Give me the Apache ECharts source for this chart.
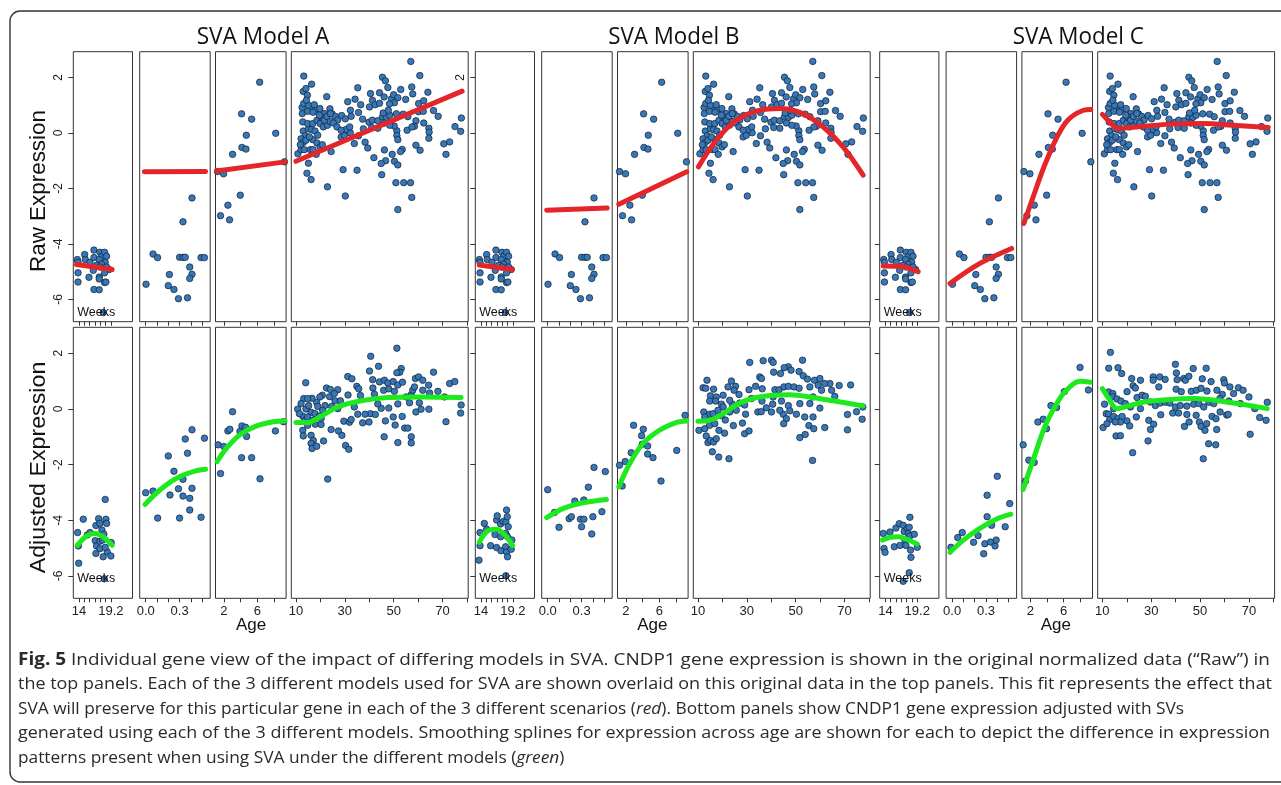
<!DOCTYPE html>
<html>
<head>
<meta charset="utf-8">
<script src="https://cdn.jsdelivr.net/npm/echarts@6/dist/echarts.min.js"></script>
<style>
html, body { margin: 0; padding: 0; background: #fff; }
#main { width: 1281px; height: 785px; }
</style>
</head>
<body>
<div id="main"></div>
<script>
// ---- data: raw expression (same in all three models) ----
var rawWeeks = [[13.73,-4.56],[13.84,-4.66],[14.92,-4.38],[15.03,-4.56],[16.44,-4.22],[16.44,-4.49],[15.79,-4.66],[17.41,-4.30],[17.74,-4.44],[18.17,-4.30],[18.50,-4.44],[17.30,-4.56],[18.28,-4.66],[17.68,-4.73],[16.87,-4.77],[16.33,-4.95],[17.41,-4.83],[18.28,-4.86],[18.93,-4.92],[13.84,-5.04],[13.84,-5.37],[15.63,-5.20],[17.30,-5.19],[17.30,-5.26],[18.17,-5.04],[18.17,-5.39],[18.39,-5.37],[16.44,-5.64],[17.30,-5.65],[17.95,-6.47],[18.50,-4.83]];
var rawInfant = [[0.003,-5.45],[0.065,-4.36],[0.105,-4.49],[0.21,-5.10],[0.20,-5.50],[0.25,-5.64],[0.29,-5.97],[0.33,-3.20],[0.30,-4.48],[0.33,-4.48],[0.35,-4.48],[0.41,-2.34],[0.39,-4.83],[0.41,-5.09],[0.39,-5.24],[0.37,-5.94],[0.49,-4.49],[0.52,-4.49]];
var rawChild = [[6.28,1.83],[4.12,0.69],[5.32,0.50],[4.68,-0.08],[4.16,-0.52],[4.64,-0.58],[3.04,-0.77],[8.2,-0.01],[9.24,-1.04],[1.24,-1.39],[1.96,-1.47],[3.96,-2.24],[2.48,-2.60],[1.6,-2.98],[2.68,-3.13]];
var rawAdult = [[57.0,2.58],[13.2,2.05],[60.7,2.07],[45.4,2.01],[46.6,1.88],[16.4,1.76],[13.0,1.50],[14.1,1.60],[14.7,1.36],[22.6,1.31],[35.3,1.63],[47.6,1.64],[52.9,1.57],[57.4,1.66],[57.8,1.41],[40.5,1.42],[44.2,1.45],[46.1,1.30],[49.1,1.23],[50.0,1.38],[51.7,1.27],[54.9,1.21],[64.0,1.47],[60.2,1.06],[62.3,1.16],[34.2,1.22],[31.2,1.13],[41.3,1.18],[36.5,1.02],[40.1,0.94],[42.4,1.02],[44.2,1.07],[50.3,1.09],[48.3,1.05],[12.5,0.92],[16.0,0.92],[18.2,0.86],[12.6,0.70],[14.8,0.78],[17.0,0.75],[19.8,0.88],[23.9,0.87],[24.8,0.69],[21.6,0.70],[26.1,0.60],[27.1,0.47],[32.3,0.82],[32.6,0.60],[28.7,0.63],[30.2,0.51],[35.6,0.74],[37.3,0.50],[39.9,0.39],[41.3,0.46],[43.5,0.44],[45.4,0.58],[47.0,0.56],[48.4,0.64],[45.7,0.72],[47.8,0.82],[51.1,0.69],[53.9,0.68],[55.8,0.59],[59.1,0.44],[60.2,0.77],[62.1,0.78],[66.3,0.81],[68.2,0.60],[62.3,0.36],[64.4,0.17],[64.5,0.03],[64.4,-0.19],[77.7,0.54],[77.4,0.06],[75.1,0.23],[72.9,-0.32],[70.5,-0.39],[71.4,-0.77],[58.5,0.24],[55.5,0.10],[57.5,0.22],[59.1,-0.44],[60.8,-0.62],[53.5,-0.59],[52.8,-0.67],[51.3,0.08],[51.3,-0.09],[51.7,-0.24],[50.2,0.25],[48.4,0.28],[46.2,-0.61],[46.7,-1.0],[44.9,-1.1],[41.9,-0.89],[49.4,-0.77],[50.3,-1.02],[51.7,-1.15],[45.1,-1.5],[50.9,-1.79],[54.1,-1.79],[56.9,-1.79],[57.4,-2.32],[51.7,-2.76],[29.3,-1.32],[35.0,-1.34],[22.9,-1.94],[30.2,-2.27],[16.2,-1.68],[14.5,-1.45],[15.1,-1.09],[10.8,-0.75],[12.1,-0.60],[13.4,-0.60],[15.9,-0.60],[17.0,-0.60],[18.3,-0.77],[24.4,-0.67],[33.9,-0.38],[38.3,-0.33],[39.4,-0.54],[28.5,-0.14],[29.8,-0.08],[32.2,0.01],[35.6,-0.10],[37.6,0.15],[41.0,0.20],[43.5,0.17],[46.2,0.36],[12.8,0.40],[13.0,0.07],[13.8,-0.10],[15.1,0.15],[16.4,0.12],[17.8,0.07],[18.9,-0.08],[14.8,0.34],[16.9,0.34],[18.6,0.46],[19.9,0.34],[21.2,0.22],[22.9,0.28],[23.9,0.42],[25.3,0.36],[26.8,0.22],[20.3,0.58],[21.6,0.46],[19.6,0.64],[22.7,0.60],[24.1,0.70],[12.1,-0.21],[13.0,-0.34],[11.8,-0.42],[14.1,-0.26],[16.9,-0.24],[18.6,-0.36],[19.9,-0.50],[20.8,-0.42],[15.5,-0.14],[30.5,0.13],[28.5,0.10],[32.0,0.22],[13.2,1.06],[15.1,1.00],[17.5,1.02],[14.3,1.18]];

// ---- data: adjusted expression, model A ----
var adjAWeeks = [[13.78,-4.44],[13.89,-4.92],[13.95,-5.54],[14.7,-3.96],[15.35,-4.53],[15.79,-4.44],[17.2,-3.94],[16.76,-4.19],[17.41,-4.11],[16.65,-4.73],[16.87,-4.92],[16.76,-5.19],[17.41,-4.75],[17.74,-4.35],[18.06,-4.50],[18.39,-3.96],[18.5,-4.11],[18.28,-3.25],[17.41,-5.02],[17.95,-5.31],[18.6,-5.13],[19.25,-4.80],[19.2,-5.28],[18.28,-4.97],[18.12,-6.10],[17.85,-4.71]];
var adjAInfant = [[0.0,-3.01],[0.065,-2.95],[0.106,-3.92],[0.20,-1.69],[0.215,-3.09],[0.25,-2.24],[0.29,-2.87],[0.30,-3.92],[0.33,-3.13],[0.33,-2.53],[0.35,-1.08],[0.37,-1.59],[0.39,-3.21],[0.39,-3.63],[0.41,-2.85],[0.41,-0.75],[0.49,-3.89],[0.52,-1.05]];
var adjAChild = [[1.32,-1.29],[2.0,-1.35],[1.6,-2.32],[2.48,-0.79],[2.72,-0.73],[3.04,-0.10],[3.92,-0.81],[4.16,-0.61],[4.6,-0.66],[4.72,-0.99],[4.12,-1.75],[5.32,-1.75],[6.32,-2.51],[8.16,-0.79],[9.12,-0.46]];
var adjAAdult = [[51.3,2.18],[40.6,1.89],[40.1,1.36],[43.8,1.53],[53.1,1.45],[52.5,1.32],[51.3,1.30],[66.3,1.32],[14.0,0.94],[31.2,1.16],[32.9,1.08],[41.4,1.05],[44.2,0.97],[46.2,1.03],[47.6,0.93],[49.8,0.98],[51.7,0.86],[53.6,0.96],[58.9,1.09],[60.2,1.15],[61.9,1.03],[64.3,0.85],[72.9,0.91],[75.0,0.98],[22.5,0.75],[24.1,0.70],[27.1,0.69],[20.8,0.49],[23.8,0.44],[13.2,0.37],[16.6,0.38],[18.5,0.23],[26.0,0.29],[28.2,0.29],[31.3,0.50],[34.9,0.81],[35.7,0.72],[36.4,0.48],[41.5,0.75],[42.1,0.53],[45.9,0.67],[48.0,0.72],[50.3,0.63],[57.2,0.51],[57.8,0.67],[61.9,0.67],[64.7,0.57],[68.1,0.63],[70.8,0.43],[12.1,0.19],[10.7,-0.01],[14.1,0.0],[15.2,0.12],[18.9,0.09],[21.9,0.12],[24.6,0.09],[16.2,-0.12],[17.8,-0.17],[19.7,-0.26],[12.8,-0.26],[13.7,-0.41],[14.8,-0.59],[12.8,-0.77],[13.0,-0.97],[16.2,-0.95],[17.1,-1.13],[16.2,-1.24],[16.6,-1.42],[18.5,-1.34],[21.3,-1.15],[17.9,-0.55],[20.3,-0.56],[24.4,-0.74],[27.4,-0.79],[28.8,-0.95],[30.3,-1.31],[31.6,-1.45],[29.6,-0.44],[31.9,-0.48],[32.6,-0.38],[37.3,-0.50],[39.9,-0.47],[40.5,-0.17],[38.3,-0.19],[42.5,-0.20],[46.1,-1.00],[44.9,0.02],[46.6,-0.43],[48.0,0.03],[49.8,-0.29],[50.6,-0.58],[51.7,-1.21],[53.5,-0.27],[54.5,-0.69],[55.8,-0.69],[57.2,-1.00],[57.2,-1.22],[56.5,0.22],[59.1,-0.11],[61.2,-0.01],[64.4,-0.01],[71.4,-0.46],[77.6,0.14],[77.4,-0.15],[23.0,-2.52],[33.9,0.07],[27.1,0.01],[20.9,-0.05],[11.4,-0.17],[14.8,-0.29],[16.9,-0.41],[20.3,-0.35],[35.3,-0.19],[43.5,0.18],[51.7,0.18],[55.1,0.43],[60.5,0.22],[58.5,0.79],[14.8,0.37],[19.8,0.43],[25.7,0.55]];

// ---- data: adjusted expression, model B ----
var adjBWeeks = [[13.84,-4.44],[13.84,-4.91],[13.67,-5.43],[14.54,-4.11],[14.92,-4.32],[15.57,-4.91],[16.28,-4.51],[16.55,-3.99],[16.65,-3.84],[16.55,-4.98],[17.2,-4.13],[17.2,-4.59],[17.25,-5.09],[17.63,-4.04],[18.06,-4.06],[18.17,-3.63],[18.28,-3.87],[18.44,-4.23],[18.06,-4.47],[18.33,-4.59],[18.01,-4.95],[18.17,-5.14],[18.33,-5.31],[18.93,-5.04],[19.04,-4.71],[18.06,-5.99]];
var adjBInfant = [[0.0,-2.90],[0.06,-3.72],[0.10,-4.25],[0.19,-3.94],[0.21,-3.87],[0.24,-3.31],[0.29,-3.96],[0.30,-4.23],[0.32,-3.27],[0.32,-3.96],[0.36,-2.81],[0.39,-4.49],[0.40,-3.87],[0.41,-2.10],[0.48,-3.69],[0.51,-2.25]];
var adjBChild = [[1.24,-2.02],[1.92,-1.89],[1.56,-2.77],[2.64,-1.57],[2.92,-0.59],[3.88,-0.96],[4.08,-0.73],[3.96,-1.27],[4.6,-1.33],[4.6,-1.62],[5.24,-1.75],[6.2,-2.59],[8.08,-1.49],[9.08,-0.23]];
var adjBAdult = [[31.2,1.67],[36.7,1.73],[40.1,1.75],[40.8,1.67],[52.8,1.75],[47.0,1.51],[45.3,1.48],[48.1,1.39],[51.4,1.34],[41.0,1.32],[43.8,1.27],[35.3,1.15],[36.0,1.09],[53.1,1.19],[54.8,1.07],[57.7,1.03],[59.9,1.09],[64.0,0.91],[67.8,0.84],[72.5,0.86],[13.7,1.03],[12.1,0.76],[13.2,0.74],[16.4,0.71],[22.3,0.79],[23.7,1.00],[25.4,0.81],[24.8,0.67],[30.9,0.69],[33.6,0.81],[36.3,0.72],[41.5,0.69],[43.2,0.69],[45.2,0.79],[47.0,0.81],[49.3,0.79],[51.4,0.74],[55.8,0.79],[59.2,0.85],[61.9,0.91],[60.6,0.67],[64.7,0.67],[66.0,0.45],[15.1,0.47],[17.5,0.43],[20.3,0.49],[26.8,0.52],[31.9,0.37],[40.8,0.43],[57.1,0.43],[14.8,0.28],[17.2,0.28],[19.6,0.17],[24.1,0.17],[27.1,0.21],[29.1,0.14],[36.2,0.28],[40.6,0.17],[44.2,0.28],[47.0,0.12],[51.7,0.19],[55.8,0.19],[59.9,0.03],[74.9,-0.10],[77.5,0.07],[12.4,-0.11],[14.8,-0.19],[12.8,-0.29],[16.2,-0.17],[19.6,-0.24],[21.2,-0.40],[23.0,-0.11],[25.7,-0.05],[29.5,-0.19],[34.5,-0.11],[35.9,-0.10],[40.1,-0.11],[44.9,-0.19],[46.2,-0.35],[50.3,-0.19],[53.7,-0.29],[57.1,-0.29],[71.2,-0.20],[77.2,-0.37],[10.4,-0.77],[12.8,-0.71],[13.4,-0.97],[14.1,-1.21],[15.1,-1.13],[16.4,-1.19],[17.5,-1.07],[14.8,-0.59],[16.9,-0.53],[18.6,-0.77],[20.9,-0.87],[24.5,-0.60],[28.2,-0.51],[29.1,-0.89],[30.9,-0.79],[45.1,-0.53],[51.7,-1.03],[53.9,-0.92],[55.4,-0.60],[57.4,-0.71],[61.9,-0.67],[71.2,-0.75],[15.9,-1.54],[18.5,-1.73],[22.7,-1.79],[56.9,-1.85],[43.5,-0.05],[47.6,-0.07],[38.0,0.04],[23.0,0.31],[20.3,0.07],[18.2,-0.05]];

// ---- data: adjusted expression, model C ----
var adjCWeeks = [[13.66,-4.47],[13.77,-5.01],[13.94,-5.15],[14.75,-4.42],[15.45,-4.95],[15.72,-4.28],[16.26,-4.12],[16.37,-4.90],[16.91,-4.18],[17.08,-4.40],[17.19,-4.71],[17.35,-4.90],[17.56,-4.29],[17.73,-4.47],[17.89,-4.25],[18.0,-3.89],[18.0,-4.56],[18.1,-5.07],[18.17,-5.33],[17.89,-5.88],[18.71,-4.50],[19.2,-4.97],[16.91,-6.19]];
var adjCInfant = [[-0.01,-4.97],[0.05,-4.62],[0.09,-4.44],[0.19,-4.79],[0.23,-4.55],[0.28,-5.20],[0.29,-4.84],[0.31,-3.10],[0.31,-3.87],[0.34,-4.78],[0.35,-4.18],[0.38,-4.92],[0.39,-4.71],[0.40,-2.42],[0.47,-4.23],[0.51,-3.40]];
var adjCChild = [[1.15,-1.29],[1.43,-2.59],[1.83,-1.84],[2.47,-1.92],[2.91,-0.47],[3.55,-0.37],[3.95,-0.71],[4.47,0.12],[5.15,0.05],[6.07,0.62],[7.95,1.49],[8.95,0.68]];
var adjCAdult = [[13.3,2.03],[12.6,1.46],[16.4,1.48],[17.9,1.27],[39.9,1.60],[40.3,1.29],[47.2,1.45],[52.5,1.46],[22.0,1.09],[25.6,1.03],[30.8,1.15],[30.8,1.03],[33.5,1.15],[35.7,1.06],[40.6,1.05],[43.3,1.09],[44.0,1.03],[45.4,1.17],[50.9,1.08],[54.5,0.98],[59.7,1.05],[60.0,0.93],[62.2,0.79],[65.7,0.76],[67.6,0.67],[22.6,0.83],[23.5,0.75],[20.1,0.62],[12.6,0.61],[14.3,0.55],[33.1,0.79],[40.2,0.71],[42.3,0.62],[46.4,0.63],[48.5,0.67],[50.4,0.74],[52.8,0.64],[56.9,0.67],[59.1,0.52],[63.7,0.55],[70.0,0.43],[77.5,0.24],[10.9,0.17],[11.6,-0.17],[14.0,0.43],[16.0,0.36],[17.6,0.28],[19.4,0.19],[24.2,0.41],[26.3,0.49],[27.6,0.45],[29.6,0.25],[31.7,0.12],[33.7,0.21],[35.8,0.24],[37.6,0.21],[39.9,0.07],[41.9,0.12],[44.6,0.10],[47.4,0.17],[49.5,0.19],[51.5,0.07],[53.6,0.24],[55.6,0.19],[58.1,0.37],[61.8,0.28],[66.5,0.19],[72.4,0.01],[12.6,-0.19],[13.0,-0.38],[14.6,-0.27],[16.3,-0.35],[18.1,-0.27],[20.1,-0.43],[21.2,-0.61],[17.4,-0.47],[15.3,-0.47],[10.3,-0.67],[11.9,-0.53],[15.6,-0.97],[17.4,-0.96],[23.9,-0.29],[29.0,-0.41],[31.0,-0.55],[29.7,-0.74],[28.7,-1.15],[33.9,-0.21],[38.8,-0.15],[41.2,-0.15],[44.6,-0.20],[43.6,-0.63],[45.5,-0.47],[48.4,-0.23],[49.7,-0.47],[50.4,-0.63],[52.0,-0.77],[52.7,-0.53],[54.9,-0.27],[56.5,-0.35],[56.8,-0.74],[58.2,-0.11],[60.9,-0.22],[61.5,-0.20],[53.5,-1.25],[56.4,-1.29],[51.3,-1.79],[22.4,-1.57],[70.5,-0.91],[74.4,-0.31],[77.0,-0.41],[25.6,0.01],[21.5,0.07],[14.6,0.01]];

// ---- fitted curves: red = SVA model fit (raw), green = smoothing spline (adjusted) ----
var redA = [[[13.6,-4.74],[19.4,-4.92]], [[-0.012,-1.40],[0.53,-1.39]], [[1.12,-1.37],[9.32,-1.04]], [[10,-1.02],[78,1.51]]];
var redB = [[[13.72,-4.76],[19.09,-4.92]], [[-0.009,-2.78],[0.527,-2.70]], [[1.16,-2.57],[9.28,-1.40]],
  [[10.2,-1.22],[17.5,-0.26],[25.7,0.46],[35.3,0.82],[43.5,0.88],[53,0.70],[61.2,0.22],[69.4,-0.50],[77.6,-1.52]]];
var redC = [[[13.66,-4.79],[16.37,-4.80],[19.35,-5.0]], [[-0.019,-5.42],[0.246,-4.70],[0.527,-4.16]],
  [[1.23,-3.26],[2.35,-2.30],[3.96,-0.98],[6.15,0.34],[8.35,0.82],[9.24,0.85]],
  [[10,0.67],[13,0.40],[16.4,0.16],[23.9,0.22],[37.6,0.32],[51.2,0.34],[64.9,0.27],[77.9,0.20]]];
var greenA = [[[13.73,-4.90],[15.25,-4.56],[16.6,-4.47],[17.95,-4.59],[19.42,-4.90]],
  [[-0.006,-3.43],[0.126,-2.91],[0.273,-2.49],[0.42,-2.25],[0.53,-2.17]],
  [[1.2,-1.89],[2.32,-1.41],[3.92,-0.93],[5.92,-0.61],[7.92,-0.46],[9.32,-0.43]],
  [[10,-0.49],[14.8,-0.49],[20.3,-0.26],[27.1,0.07],[36.7,0.29],[47.6,0.41],[61.2,0.43],[77.6,0.41]]];
var greenB = [[[13.73,-4.79],[14.92,-4.41],[16.44,-4.32],[17.9,-4.53],[19.15,-4.91]],
  [[-0.009,-3.90],[0.14,-3.57],[0.314,-3.37],[0.52,-3.25]],
  [[1.16,-2.79],[2.48,-1.95],[4.08,-1.23],[6.08,-0.75],[8.08,-0.48],[9.28,-0.43]],
  [[10,-0.44],[14.8,-0.41],[20.3,-0.17],[27.1,0.21],[34,0.41],[42.1,0.50],[47.6,0.51],[55.8,0.43],[65.3,0.29],[77.6,0.11]]];
var greenC = [[[13.56,-4.71],[14.75,-4.61],[16.1,-4.59],[17.46,-4.68],[19.19,-4.85]],
  [[-0.019,-5.15],[0.10,-4.71],[0.246,-4.29],[0.39,-3.96],[0.52,-3.78]],
  [[1.15,-2.89],[2.35,-1.83],[3.75,-0.63],[4.95,0.08],[6.15,0.62],[7.95,0.99],[9.15,0.96]],
  [[10,0.73],[12.6,0.37],[16,0.01],[20.1,0.09],[26.9,0.25],[36.5,0.33],[47.4,0.37],[61.1,0.25],[77.5,0.01]]];

// ---- ticks and labels ----
var weekTicks = [14, 14.867, 15.733, 16.6, 17.467, 18.333, 19.2];
var weekLabels = [14, 19.2];
var infantTicks = [0, 0.1, 0.2, 0.3, 0.4, 0.5];
var infantLabels = [0, 0.3];
var childTicks = [2, 4, 6, 8];
var childLabels = [2, 6];
var adultTicks = [10, 20, 30, 40, 50, 60, 70, 80];
var adultLabels = [10, 30, 50, 70];
var yTicks = [-6, -4, -2, 0, 2];

var modelNames = ['SVA Model A', 'SVA Model B', 'SVA Model C'];
var rowNames = ['Raw Expression', 'Adjusted Expression'];

// ---- layout ----
var modelLeft = [73.3, 475.3, 879.7];
var panelLeft = [0, 66.4, 142.2, 218.0];
var panelWidth = [59.2, 70.5, 70.6, 176.9];
var rowTop = [51.7, 327.3];
var rowHeight = [270, 271];
var xRange = [[13.07, 22.73], [-0.053, 0.571], [1.0, 9.44], [8.1, 80.5]];
var yMin = -6.8, yMax = 2.93;

var rawData = [rawWeeks, rawInfant, rawChild, rawAdult];
var adjData = [[adjAWeeks, adjAInfant, adjAChild, adjAAdult], [adjBWeeks, adjBInfant, adjBChild, adjBAdult], [adjCWeeks, adjCInfant, adjCChild, adjCAdult]];
var redFits = [redA, redB, redC];
var greenFits = [greenA, greenB, greenC];
var xTickVals = [weekTicks, infantTicks, childTicks, adultTicks];
var xLabelVals = [weekLabels, infantLabels, childLabels, adultLabels];

var RED = '#e4262b', GREEN = '#1ee81e', DOT = '#3878b8';
var TICKFONT = '"Liberation Sans", Arial, sans-serif';

var grids = [], xAxes = [], yAxes = [], series = [];
for (var m = 0; m < 3; m++) {
	for (var r = 0; r < 2; r++) {
		for (var p = 0; p < 4; p++) {
			var idx = grids.length;
			grids.push({
				left : modelLeft[m] + panelLeft[p],
				top : rowTop[r],
				width : panelWidth[p],
				height : rowHeight[r],
				show : true,
				borderColor : '#333',
				borderWidth : 1,
				backgroundColor : 'transparent',
				outerBoundsMode : 'none'
			});
			xAxes.push({
				gridIndex : idx,
				type : 'value',
				position : 'bottom',
				min : xRange[p][0],
				max : xRange[p][1],
				axisLine : { show : false, onZero : false },
				splitLine : { show : false },
				axisTick : { show : true, length : 4, customValues : xTickVals[p], lineStyle : { color : '#333' } },
				axisLabel : {
					show : r == 1,
					customValues : xLabelVals[p],
					margin : 7,
					fontSize : 13,
					fontFamily : TICKFONT,
					color : '#222',
					formatter : p == 1 ? function(v) { return v.toFixed(1); } : function(v) { return String(v); }
				}
			});
			var showLab = (m == 0) || (m == 1 && r == 0);
			yAxes.push({
				gridIndex : idx,
				type : 'value',
				position : 'left',
				min : yMin,
				max : yMax,
				show : p == 0,
				axisLine : { show : false, onZero : false },
				splitLine : { show : false },
				axisTick : { show : true, length : 5, customValues : yTicks, lineStyle : { color : '#333' } },
				axisLabel : {
					show : showLab,
					customValues : m == 0 ? yTicks : [2],
					rotate : 90,
					margin : 9,
					fontSize : 12,
					fontFamily : TICKFONT,
					color : '#222'
				}
			});
			series.push({
				type : 'scatter',
				xAxisIndex : idx,
				yAxisIndex : idx,
				data : r == 0 ? rawData[p] : adjData[m][p],
				symbol : 'circle',
				symbolSize : 6.5,
				silent : true,
				itemStyle : { color : DOT, borderColor : '#10202f', borderWidth : 0.7, opacity : 1 }
			});
			series.push({
				type : 'line',
				xAxisIndex : idx,
				yAxisIndex : idx,
				data : r == 0 ? redFits[m][p] : greenFits[m][p],
				showSymbol : false,
				smooth : 0.35,
				silent : true,
				z : 3,
				lineStyle : { color : r == 0 ? RED : GREEN, width : 5, cap : 'round', join : 'round' }
			});
		}
	}
}

// text measuring, used to squeeze text to the widths seen in the figure
var mctx = document.createElement('canvas').getContext('2d');
function measure(str, font) {
	mctx.font = font;
	return mctx.measureText(str).width;
}

var graphics = [];
// outer rounded frame
graphics.push({
	type : 'rect',
	z : -10,
	shape : { x : 10, y : 11, width : 1300, height : 771, r : 10 },
	style : { fill : 'none', stroke : '#333', lineWidth : 1.4 }
});

// model titles
var titleX = [263, 673.8, 1078.3];
var titleW = [132.6, 131, 131.3];
var TITLEFONT = '"Open Sans", sans-serif';
for (var i = 0; i < 3; i++) {
	var tw = measure(modelNames[i], '23px "Open Sans"');
	graphics.push({
		type : 'text',
		x : titleX[i],
		y : 37.7,
		scaleX : titleW[i] / tw,
		style : { text : modelNames[i], fontSize : 23, fontFamily : TITLEFONT, fill : '#111', align : 'center', verticalAlign : 'middle' }
	});
}

// row titles (rotated)
var rowY = [191, 467.5];
var rowLen = [162, 211.6];
for (var j = 0; j < 2; j++) {
	var rw = measure(rowNames[j], '22px "Liberation Sans"');
	graphics.push({
		type : 'text',
		x : 38.5,
		y : rowY[j],
		rotation : Math.PI / 2,
		scaleX : rowLen[j] / rw,
		style : { text : rowNames[j], fontSize : 22, fontFamily : TICKFONT, fill : '#111', align : 'center', verticalAlign : 'middle' }
	});
}

// "Age" under each model, "Weeks" inside the first panels
var ageX = [251, 652.3, 1055.8];
for (var k = 0; k < 3; k++) {
	graphics.push({
		type : 'text', x : ageX[k], y : 625,
		style : { text : 'Age', fontSize : 17, fontFamily : TICKFONT, fill : '#111', align : 'center', verticalAlign : 'middle' }
	});
	for (var rr = 0; rr < 2; rr++) {
		graphics.push({
			type : 'text', x : modelLeft[k] + 4, y : rr == 0 ? 312.5 : 579, z : 10,
			style : { text : 'Weeks', fontSize : 12.5, fontFamily : TICKFONT, fill : '#111', align : 'left', verticalAlign : 'middle' }
		});
	}
}

// caption: words placed one by one, justified lines get stretched spaces
var CAPF = '"Open Sans", sans-serif';
var capSize = 17;
var captionLines = [
	[['Fig. 5', 'b'], [' Individual gene view of the impact of differing models in SVA. CNDP1 gene expression is shown in the original normalized data (\u201cRaw\u201d) in', 'n']],
	[['the top panels. Each of the 3 different models used for SVA are shown overlaid on this original data in the top panels. This fit represents the effect that', 'n']],
	[['SVA will preserve for this particular gene in each of the 3 different scenarios (', 'n'], ['red', 'i'], ['). Bottom panels show CNDP1 gene expression adjusted with SVs', 'n']],
	[['generated using each of the 3 different models. Smoothing splines for expression across age are shown for each to depict the difference in expression', 'n']],
	[['patterns present when using SVA under the different models (', 'n'], ['green', 'i'], [')', 'n']]
];
var capY = [660, 684.5, 709, 733.5, 758];
var capEnd = [1270, 1272, 1125, 1270, 592];
var capJustify = [true, true, false, true, false];
var fontOf = { n : capSize + 'px "Open Sans"', b : 'bold ' + capSize + 'px "Open Sans"', i : 'italic ' + capSize + 'px "Open Sans"' };
var spaceW = measure(' ', fontOf.n);

// split a line into words; pieces that touch (like "(" + "red" + ")") stay one word
function lineWords(line) {
	var words = [], prevJoin = false;
	line.forEach(function(seg, si) {
		var startsSpace = seg[0].charAt(0) == ' ';
		var parts = seg[0].split(' ');
		parts.forEach(function(t, pi) {
			if (t === '') { return; }
			var glue = (pi == 0 && si > 0 && prevJoin && !startsSpace);
			if (glue && words.length) {
				words[words.length - 1].push([t, seg[1]]);
			} else {
				words.push([[t, seg[1]]]);
			}
		});
		prevJoin = seg[0].charAt(seg[0].length - 1) != ' ';
	});
	return words;
}
function wordWidth(w) {
	var s = 0;
	w.forEach(function(piece) { s += measure(piece[0], fontOf[piece[1]]); });
	return s;
}
// squeeze per line so justified lines end flush with normal spaces; ragged lines share one squeeze
var capWords = captionLines.map(lineWords);
var capSq = capWords.map(function(ws, c) {
	var tot = 0;
	ws.forEach(function(w) { tot += wordWidth(w); });
	tot += spaceW * (ws.length - 1);
	return (capEnd[c] - 18) / tot;
});
var raggedSq = (capSq[2] + capSq[4]) / 2;
for (var c = 0; c < capWords.length; c++) {
	var sq = capJustify[c] ? capSq[c] : raggedSq;
	var words = capWords[c];
	var widths = words.map(function(w) { return wordWidth(w) * sq; });
	var sum = widths.reduce(function(a, b) { return a + b; }, 0);
	var gap = capJustify[c] ? (capEnd[c] - 18 - sum) / (words.length - 1) : spaceW * sq;
	var cx = 18;
	words.forEach(function(w, wi) {
		var px = cx;
		w.forEach(function(piece) {
			graphics.push({
				type : 'text',
				x : px,
				y : capY[c],
				scaleX : sq,
				style : {
					text : piece[0],
					fontSize : capSize,
					fontFamily : CAPF,
					fontWeight : piece[1] == 'b' ? 'bold' : 'normal',
					fontStyle : piece[1] == 'i' ? 'italic' : 'normal',
					fill : '#2a2a2a',
					align : 'left',
					verticalAlign : 'middle'
				}
			});
			px += measure(piece[0], fontOf[piece[1]]) * sq;
		});
		cx += widths[wi] + gap;
	});
}

var chart = echarts.init(document.getElementById('main'), null, { renderer : 'canvas' });
chart.setOption({
	animation : false,
	backgroundColor : '#fff',
	grid : grids,
	xAxis : xAxes,
	yAxis : yAxes,
	series : series,
	graphic : graphics
});
</script>
</body>
</html>
